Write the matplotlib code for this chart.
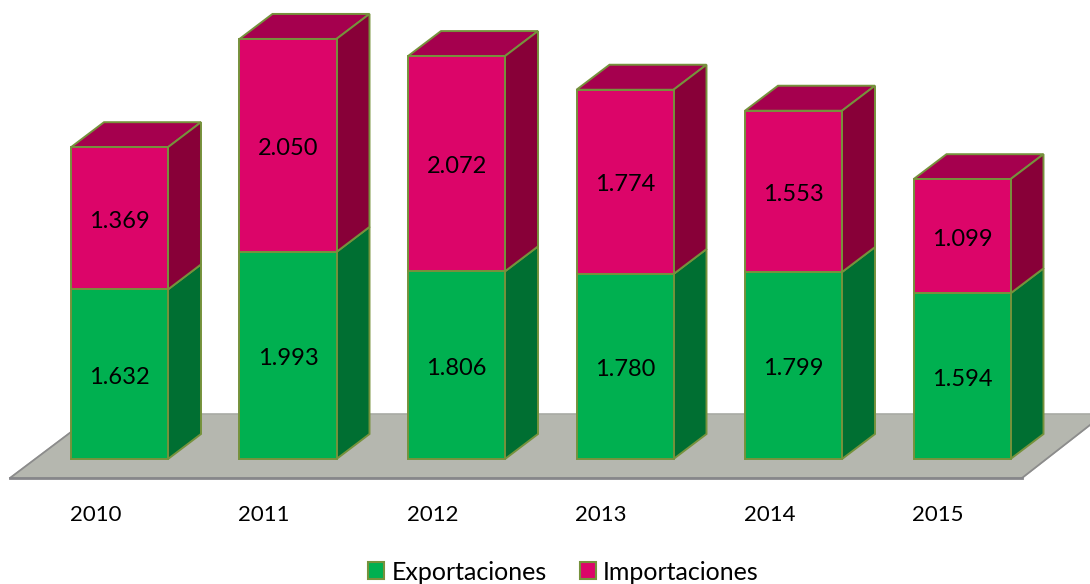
import matplotlib
matplotlib.use('Agg')
import matplotlib.pyplot as plt
from matplotlib.patches import Polygon, Patch

years = ['2010', '2011', '2012', '2013', '2014', '2015']
exportaciones = [1632, 1993, 1806, 1780, 1799, 1594]
importaciones = [1369, 2050, 2072, 1774, 1553, 1099]
export_labels = ['1.632', '1.993', '1.806', '1.780', '1.799', '1.594']
import_labels = ['1.369', '2.050', '2.072', '1.774', '1.553', '1.099']

plt.rcParams['font.family'] = ['Lato', 'DejaVu Sans']

W, H = 1090, 584
px_x = 168.5      # pixels per category
px_y = 0.1039     # pixels per unit of value
x0_px = 119.5     # first bar centre
y0_px = 459       # baseline

bar_w = 97 / px_x
dx = 33 / px_x    # 3d depth
dy = 25 / px_y

fig = plt.figure(figsize=(W / 100, H / 100), dpi=100)
ax = fig.add_axes([0, 0, 1, 1])
ax.set_xlim(-x0_px / px_x, (W - x0_px) / px_x)
ax.set_ylim(-(H - y0_px) / px_y, y0_px / px_y)
ax.axis('off')

edge = '#76923C'

# floor
def fx(p):
    return (p - x0_px) / px_x
def fy(p):
    return (y0_px - p) / px_y

floor = [(fx(10), fy(478)), (fx(1022), fy(478)), (fx(1104), fy(414)), (fx(95), fy(414))]
ax.add_patch(Polygon(floor, closed=True, fc='#B5B7AF', ec='#A8AAA4', lw=1.2, zorder=1))
ax.plot([fx(10), fx(71)], [fy(478), fy(432)], color='#8C8C8C', lw=1.2, zorder=1)
ax.plot([fx(1022), fx(1090)], [fy(478), fy(425)], color='#8C8C8C', lw=1.2, zorder=1)
ax.plot([fx(10), fx(1022)], [fy(478), fy(478)], color='#86868A', lw=2, zorder=1)


def box(x, y0, y1, front, side, top=None):
    l = x - bar_w / 2
    r = x + bar_w / 2
    if top:
        ax.add_patch(Polygon([(l, y1), (r, y1), (r + dx, y1 + dy), (l + dx, y1 + dy)],
                             closed=True, fc=top, ec=edge, lw=1.4, zorder=3))
    ax.add_patch(Polygon([(r, y0), (r + dx, y0 + dy), (r + dx, y1 + dy), (r, y1)],
                         closed=True, fc=side, ec=edge, lw=1.4, zorder=3))
    ax.add_patch(Polygon([(l, y0), (r, y0), (r, y1), (l, y1)],
                         closed=True, fc=front, ec=edge, lw=1.4, zorder=4))


shift = 3 / px_y  # labels sit a little below the middle of the face

for i in range(len(years)):
    e = exportaciones[i]
    m = importaciones[i]
    box(i, 0, e, '#00B050', '#006F32')
    box(i, e, e + m, '#DC0569', '#880038', top='#A5004E')
    ax.text(i, e / 2 - shift, export_labels[i], ha='center', va='center', fontsize=17, color='black', zorder=5)
    ax.text(i, e + m / 2 - shift, import_labels[i], ha='center', va='center', fontsize=17, color='black', zorder=5)
    ax.text(i - 24 / px_x, fy(515), years[i], ha='center', va='center', fontsize=16, color='black', zorder=5)

handles = [Patch(fc='#00B050', ec=edge, lw=1.5, label='Exportaciones'),
           Patch(fc='#DC0569', ec=edge, lw=1.5, label='Importaciones')]
fig.legend(handles=handles, loc='center', bbox_to_anchor=(563.5 / W, 1 - 572 / H), ncol=2,
           frameon=False, fontsize=18, handlelength=0.64, handleheight=0.64,
           handletextpad=0.3, columnspacing=1.3, borderpad=0, borderaxespad=0)

fig.savefig('out.png', dpi=100)
